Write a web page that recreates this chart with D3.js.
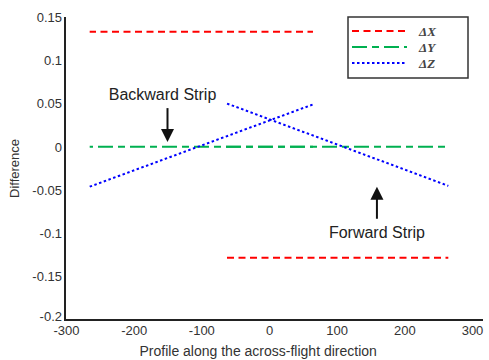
<!DOCTYPE html>
<html>
<head>
<meta charset="utf-8">
<script src="https://cdn.jsdelivr.net/npm/d3@7/dist/d3.min.js"></script>
<style>
  html, body { margin: 0; padding: 0; background: #fff; }
  svg { display: block; font-family: Arial, "Liberation Sans", sans-serif; }
</style>
</head>
<body>
<svg id="chart" width="489" height="360"></svg>
<script>
// Axis ticks
const xTicks = [-300, -200, -100, 0, 100, 200, 300];
const xTickLabels = ["-300", "-200", "-100", "0", "100", "200", "300"];
const yTicks = [0.15, 0.1, 0.05, 0, -0.05, -0.1, -0.15, -0.2];
const yTickLabels = ["0.15", "0.1", "0.05", "0", "-0.05", "-0.1", "-0.15", "-0.2"];

// Backward strip segments (x, value)
const backwardDX = [[-265, 0.133], [65, 0.133]];
const backwardDY = [[-265, 0], [65, 0]];
const backwardDZ = [[-265, -0.046], [65, 0.049]];

// Forward strip segments (x, value)
const forwardDX = [[-65, -0.128], [265, -0.128]];
const forwardDY = [[-65, 0], [265, 0]];
const forwardDZ = [[-62, 0.05], [265, -0.045]];

const legendLabels = ["ΔX", "ΔY", "ΔZ"];
const annotations = [
  { text: "Backward Strip", x: -150, y: 0.054, tipY: 0.0056, dir: "down" },
  { text: "Forward Strip",  x: 159.5, y: -0.105, tipY: -0.046, dir: "up" }
];

const svg = d3.select("#chart");
const x = d3.scaleLinear().domain([-300, 300]).range([66, 472]);
const y = d3.scaleLinear().domain([-0.2, 0.15]).range([320, 17]);
const FONT = "Arial, 'Liberation Sans', sans-serif";

const styles = {
  dx: { color: "#ff0000", dash: "7,4.5", width: 2 },
  dy: { color: "#00b050", dash: "15,5,7,5", width: 2 },
  dz: { color: "#0000ff", dash: "2.5,2.5", width: 2 }
};

// Axes (left and bottom only, no tick marks)
const xAxis = d3.axisBottom(x).tickValues(xTicks).tickSize(0).tickPadding(6)
  .tickFormat((d, i) => xTickLabels[i]);
const yAxis = d3.axisLeft(y).tickValues(yTicks).tickSize(0).tickPadding(3)
  .tickFormat((d, i) => yTickLabels[i]);

const gx = svg.append("g").attr("transform", `translate(0,${y(-0.2)})`).call(xAxis);
gx.select(".domain").remove();
gx.selectAll("text").attr("font-size", 13).attr("fill", "#333").attr("font-family", FONT);

const gy = svg.append("g").attr("transform", `translate(${x(-300) - 1},0)`).call(yAxis);
gy.select(".domain").remove();
gy.selectAll("text").attr("font-size", 13).attr("fill", "#333").attr("font-family", FONT)
  .attr("dy", d => d === -0.2 ? "0.05em" : "0.32em");

// axis lines
svg.append("line")
  .attr("x1", x(-300) - 1).attr("x2", x(-300) - 1)
  .attr("y1", y(0.15)).attr("y2", y(-0.2) + 1)
  .attr("stroke", "#222").attr("stroke-width", 2);
svg.append("line")
  .attr("x1", x(-300) - 2).attr("x2", 483)
  .attr("y1", y(-0.2)).attr("y2", y(-0.2))
  .attr("stroke", "#222").attr("stroke-width", 2);

// axis titles
svg.append("text")
  .attr("transform", `translate(19,${y(-0.025)}) rotate(-90)`)
  .attr("text-anchor", "middle")
  .attr("font-size", 13).attr("fill", "#333")
  .text("Difference");
svg.append("text")
  .attr("x", x(-16)).attr("y", 356)
  .attr("text-anchor", "middle")
  .attr("font-size", 14).attr("fill", "#333")
  .text("Profile along the across-flight direction");

// series lines; horizontal dash patterns share one phase along x
const line = d3.line().x(d => x(d[0])).y(d => y(d[1]));
const series = [
  [backwardDY, styles.dy], [forwardDY, styles.dy],
  [backwardDX, styles.dx], [forwardDX, styles.dx],
  [backwardDZ, styles.dz], [forwardDZ, styles.dz]
];
series.forEach(([data, s]) => {
  const horizontal = data[0][1] === data[1][1];
  svg.append("path")
    .attr("d", line(data))
    .attr("fill", "none")
    .attr("stroke", s.color)
    .attr("stroke-width", s.width)
    .attr("stroke-dasharray", s.dash)
    .attr("stroke-dashoffset", horizontal ? x(data[0][0]) - x(-300) : 0);
});

// annotations with arrows
annotations.forEach(a => {
  const cx = x(a.x);
  const g = svg.append("g");
  const tip = y(a.tipY);
  if (a.dir === "down") {
    g.append("text").attr("x", cx - 5).attr("y", y(a.y))
      .attr("text-anchor", "middle").attr("font-size", 16).attr("fill", "#222")
      .text(a.text);
    g.append("line").attr("x1", cx).attr("x2", cx).attr("y1", y(a.y) + 8).attr("y2", tip - 10)
      .attr("stroke", "#111").attr("stroke-width", 2);
    g.append("path").attr("d", `M${cx - 6.5},${tip - 13} L${cx + 6.5},${tip - 13} L${cx},${tip} Z`).attr("fill", "#111");
  } else {
    g.append("text").attr("x", cx).attr("y", y(a.y))
      .attr("text-anchor", "middle").attr("font-size", 16).attr("fill", "#222")
      .text(a.text);
    g.append("line").attr("x1", cx).attr("x2", cx).attr("y1", y(a.y) - 19).attr("y2", tip + 10)
      .attr("stroke", "#111").attr("stroke-width", 2);
    g.append("path").attr("d", `M${cx - 6.5},${tip + 13} L${cx + 6.5},${tip + 13} L${cx},${tip} Z`).attr("fill", "#111");
  }
});

// legend
const lg = svg.append("g").attr("transform", "translate(348,17)");
lg.append("rect").attr("width", 120).attr("height", 61)
  .attr("fill", "#fff").attr("stroke", "#333").attr("stroke-width", 1.5);
[styles.dx, styles.dy, styles.dz].forEach((s, i) => {
  const ly = 14 + i * 16;
  lg.append("line").attr("x1", 4).attr("x2", 59).attr("y1", ly).attr("y2", ly)
    .attr("stroke", s.color).attr("stroke-width", s.width).attr("stroke-dasharray", s.dash);
  lg.append("text").attr("x", 71).attr("y", ly + 4.5)
    .attr("font-family", "'Liberation Serif', 'Times New Roman', serif")
    .attr("font-style", "italic").attr("font-weight", "bold")
    .attr("font-size", 13).attr("fill", "#444")
    .text(legendLabels[i]);
});
</script>
</body>
</html>
